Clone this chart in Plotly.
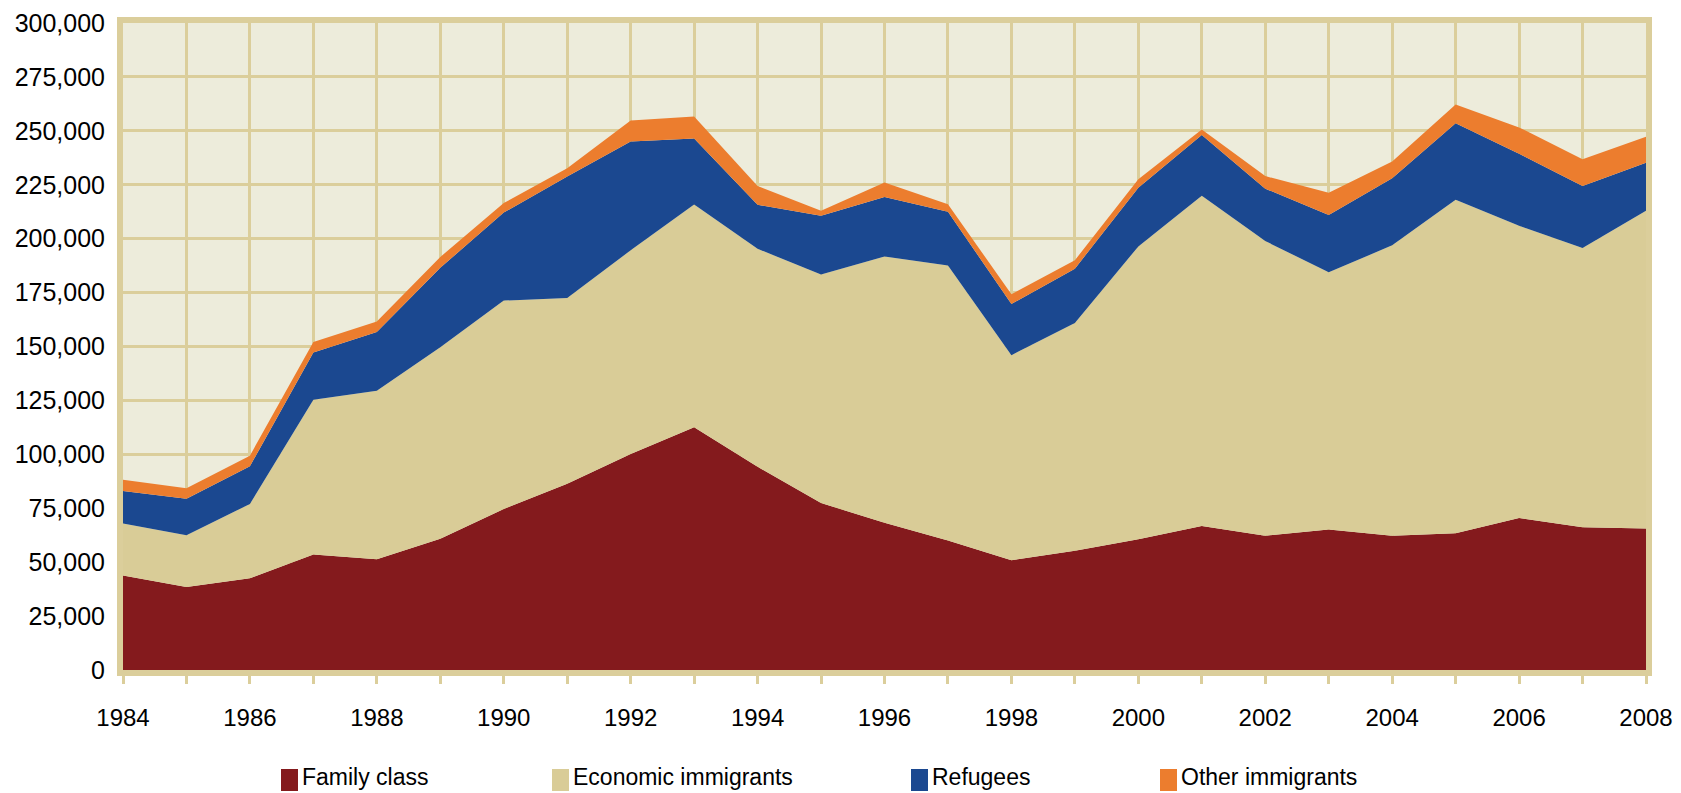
import plotly.graph_objects as go

years = list(range(1984, 2009))

family_class = [43800, 38500, 42500, 53600, 51400, 60800, 74700, 86400, 100200, 112600,
                94200, 77400, 68300, 60000, 50900, 55300, 60600, 66800, 62300, 65100,
                62300, 63400, 70500, 66200, 65600]
economic = [24100, 24000, 34500, 71700, 78100, 88800, 96600, 86100, 94400, 103200,
            101100, 106000, 123400, 127600, 95100, 105600, 135800, 153100, 136600, 119300,
            134600, 154600, 135500, 129500, 147300]
refugees = [15100, 16900, 17500, 21900, 27200, 36900, 40800, 56300, 50500, 30700,
            20400, 27200, 27600, 24900, 23700, 25200, 27200, 28200, 24300, 26600,
            31100, 35500, 33400, 28700, 22300]
other = [5200, 4900, 4900, 4900, 4900, 5000, 4400, 3900, 9700, 10100,
         8700, 2300, 6800, 3500, 4500, 3900, 3900, 2500, 5800, 10300,
         7800, 8700, 12200, 12400, 12000]

series_names = ['Family class', 'Economic immigrants', 'Refugees', 'Other immigrants']
series_values = [family_class, economic, refugees, other]
colours = ['#841a1d', '#d9cc97', '#1b4890', '#ec7d2e']

W, H = 1681, 793
M = dict(l=123, r=35, t=23, b=123)
FONT = 'Liberation Sans, Arial, sans-serif'
GRID = '#dbce9b'

fig = go.Figure()
for name, vals, col in zip(series_names, series_values, colours):
    fig.add_trace(go.Scatter(
        x=years, y=vals, name=name, stackgroup='one', mode='lines',
        line={'width': 0, 'color': col}, fillcolor=col, showlegend=False,
    ))

# legend drawn below the plot (Excel style: small tall swatch + label)
pw = W - M['l'] - M['r']
ph = H - M['t'] - M['b']


def px_x(px):
    return (px - M['l']) / pw


def px_y(py):
    return (H - M['b'] - py) / ph


legend_left = [281, 552, 911, 1160]
shapes, annotations = [], []
for name, col, left in zip(series_names, colours, legend_left):
    shapes.append(dict(type='rect', xref='paper', yref='paper',
                       x0=px_x(left), x1=px_x(left + 17), y0=px_y(791), y1=px_y(769),
                       fillcolor=col, line={'width': 0}, layer='above'))
    annotations.append(dict(text=name, xref='paper', yref='paper', x=px_x(left + 19), y=px_y(777),
                            xanchor='left', yanchor='middle', showarrow=False,
                            font={'family': FONT, 'size': 23, 'color': '#000'}))

fig.update_layout(
    width=W, height=H, margin=M,
    paper_bgcolor='white', plot_bgcolor='#edecdb',
    shapes=shapes, annotations=annotations,
    font={'family': FONT, 'color': '#000'},
)
fig.update_xaxes(
    range=[1984, 2008], tick0=1984, dtick=2, automargin=False,
    showgrid=True, gridcolor=GRID, gridwidth=3,
    ticks='outside', ticklen=8, tickwidth=3, tickcolor=GRID,
    minor={'dtick': 1, 'showgrid': True, 'gridcolor': GRID, 'gridwidth': 3,
           'ticks': 'outside', 'ticklen': 8, 'tickwidth': 3, 'tickcolor': GRID},
    showline=True, linecolor=GRID, linewidth=6, mirror=True,
    tickfont={'size': 24}, ticklabelstandoff=13, zeroline=False,
)
fig.update_yaxes(
    range=[0, 300000], dtick=25000, tickformat=',d', automargin=False,
    showgrid=True, gridcolor=GRID, gridwidth=3,
    showline=True, linecolor=GRID, linewidth=6, mirror=True,
    tickfont={'size': 25}, ticklabelstandoff=7, zeroline=False,
)

# drop the page's default body margin so the figure sits at the window's corner
fig.write_html('out.html', config={'displayModeBar': False},
               post_script="document.body.style.margin = '0';")
